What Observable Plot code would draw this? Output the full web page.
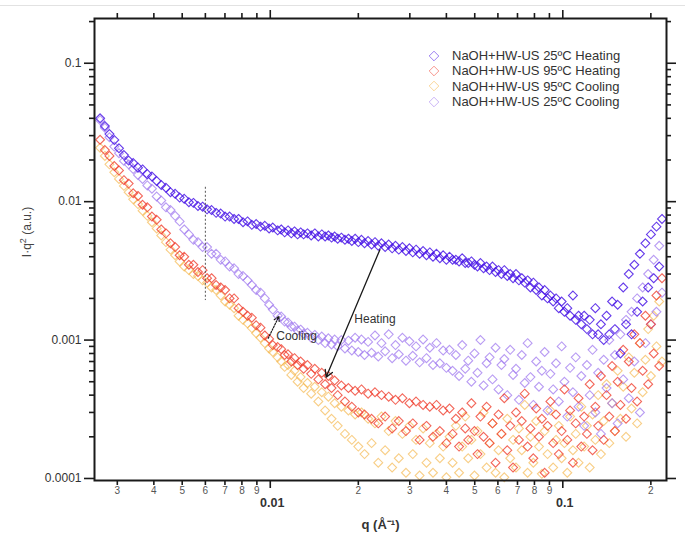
<!DOCTYPE html>
<html><head><meta charset="utf-8">
<script src="https://cdn.jsdelivr.net/npm/d3@7"></script>
<script src="https://cdn.jsdelivr.net/npm/@observablehq/plot@0.6"></script>
<style>
body{margin:0;background:#fff;font-family:"Liberation Sans",Arial,sans-serif;}
#wrap{position:relative;width:685px;height:538px;overflow:hidden;background:#fff;}
#topline{position:absolute;left:0;top:5px;width:685px;height:1px;background:#e2e2e2;}
#legend{position:absolute;left:428px;top:48px;font-size:13px;color:#333;}
#legend .row{height:15.3px;display:flex;align-items:center;white-space:nowrap;}
#legend svg{margin-right:12px;}
#ylabel{position:absolute;left:26px;top:232px;transform:translate(-50%,-50%) rotate(-90deg);font-size:12px;color:#444;white-space:nowrap;}
#ylabel sup{font-size:9px;}
</style></head>
<body><div id="wrap"><div id="topline"></div></div>
<script>
// q values (Å^-1), shared by all series
const q = [
0.00262,0.00272,0.00282,0.00293,0.00304,0.00316,0.00328,0.00340,0.00353,0.00366,
0.00380,0.00394,0.00409,0.00424,0.00440,0.00456,0.00473,0.00490,0.00508,0.00527,
0.00546,0.00566,0.00587,0.00608,0.00630,0.00653,0.00677,0.00701,0.00726,0.00752,
0.00779,0.00807,0.00836,0.00865,0.00895,0.00926,0.00958,0.00991,0.0102,0.0106,
0.0109,0.0112,0.0115,0.0118,0.0121,0.0124,0.0127,0.0130,0.0134,0.0138,
0.0142,0.0146,0.0150,0.0154,0.0158,0.0162,0.0166,0.0170,0.0175,0.0180,
0.0185,0.0190,0.0195,0.0200,0.0205,0.0210,0.0216,0.0222,0.0228,0.0234,
0.0240,0.0247,0.0254,0.0261,0.0268,0.0275,0.0283,0.0291,0.0299,0.0307,
0.0315,0.0324,0.0333,0.0342,0.0351,0.0360,0.0370,0.0380,0.0390,0.0400,
0.0410,0.0420,0.0431,0.0442,0.0453,0.0464,0.0475,0.0487,0.0499,0.0511,
0.0523,0.0536,0.0549,0.0562,0.0575,0.0589,0.0603,0.0617,0.0631,0.0646,
0.0661,0.0676,0.0692,0.0708,0.0724,0.0741,0.0758,0.0775,0.0793,0.0811,
0.0829,0.0848,0.0867,0.0887,0.0907,0.0927,0.0948,0.0969,0.0991,0.1013,
0.1036,0.1059,0.1083,0.1107,0.1132,0.1157,0.1183,0.1209,0.1236,0.1264,
0.1292,0.1321,0.1350,0.1380,0.1411,0.1442,0.1474,0.1507,0.1540,0.1574,
0.1609,0.1645,0.1681,0.1718,0.1756,0.1795,0.1835,0.1875,0.1916,0.1958,
0.2001,0.2045,0.2090,0.2136,0.2183];

// NaOH+HW-US 25ºC Heating
const I_25_heating = [
0.0400,0.0352,0.0308,0.0279,0.0243,0.0217,0.0198,0.0190,0.0176,0.0171,
0.0158,0.0152,0.0141,0.0132,0.0126,0.0117,0.0114,0.0107,0.0105,0.0099,
0.0098,0.0093,0.0092,0.0088,0.0087,0.0083,0.0082,0.0078,0.0078,0.0075,
0.0075,0.0071,0.0072,0.0068,0.0069,0.0066,0.0067,0.0064,0.0065,0.0062,
0.0063,0.0060,0.0062,0.0059,0.0061,0.0058,0.0060,0.0058,0.0059,0.0057,
0.0059,0.0056,0.0058,0.0056,0.0057,0.0055,0.0056,0.0054,0.0055,0.0053,
0.0054,0.0052,0.0054,0.0051,0.0053,0.0050,0.0052,0.0049,0.0051,0.0048,
0.0050,0.0047,0.0049,0.0046,0.0048,0.0045,0.0047,0.0044,0.0046,0.0043,
0.0045,0.0042,0.0044,0.0041,0.0043,0.0040,0.0042,0.0039,0.0041,0.0038,
0.0040,0.0038,0.0038,0.0037,0.0039,0.0036,0.0036,0.0037,0.0035,0.0034,
0.0036,0.0033,0.0034,0.0032,0.0034,0.0031,0.0032,0.0030,0.0032,0.0029,
0.0030,0.0028,0.0030,0.0027,0.0028,0.0026,0.0027,0.0024,0.0026,0.0023,
0.0024,0.0021,0.0023,0.0020,0.0021,0.0019,0.0020,0.0017,0.0019,0.0016,
0.0017,0.0015,0.0021,0.0014,0.0015,0.0013,0.0015,0.0012,0.0014,0.0011,
0.0017,0.0011,0.0013,0.0010,0.0015,0.0011,0.0019,0.0012,0.0018,0.0008,
0.0024,0.0013,0.0030,0.0011,0.0035,0.0016,0.0042,0.0019,0.0050,0.0024,
0.0058,0.0028,0.0066,0.0034,0.0075];

// NaOH+HW-US 95ºC Heating
const I_95_heating = [
0.0280,0.0236,0.0214,0.0181,0.0168,0.0143,0.0135,0.0115,0.0110,0.0095,
0.0091,0.0078,0.0074,0.0063,0.0059,0.0050,0.0047,0.0041,0.0040,0.0035,
0.0035,0.0031,0.0032,0.0028,0.0028,0.0025,0.0024,0.0023,0.0020,0.0020,
0.0017,0.0016,0.0015,0.00145,0.00128,0.00123,0.00108,0.00102,0.00092,0.00089,
0.00086,0.00078,0.00079,0.00070,0.00074,0.00066,0.00070,0.00062,0.00066,0.00057,
0.00062,0.00052,0.00058,0.00048,0.00055,0.00045,0.00051,0.00040,0.00047,0.00036,
0.00045,0.00033,0.00043,0.00030,0.00044,0.00029,0.00041,0.00027,0.00042,0.00025,
0.00040,0.00028,0.00039,0.00023,0.00037,0.00026,0.00038,0.00022,0.00035,0.00025,
0.00036,0.00019,0.00034,0.00024,0.00033,0.00020,0.00034,0.00022,0.00031,0.00018,
0.00032,0.00021,0.00027,0.00017,0.00030,0.00023,0.00019,0.00035,0.00022,0.00015,
0.00028,0.00020,0.00033,0.00018,0.00025,0.00013,0.00029,0.00021,0.00038,0.00016,
0.00024,0.00012,0.00030,0.00019,0.00026,0.00041,0.00017,0.00023,0.00014,0.00032,
0.00020,0.00027,0.00011,0.00024,0.00036,0.00018,0.00029,0.00015,0.00022,0.00044,
0.00019,0.00031,0.00013,0.00025,0.00038,0.00017,0.00028,0.00021,0.00048,0.00016,
0.00033,0.00024,0.00055,0.00019,0.00040,0.00028,0.00065,0.00022,0.00050,0.00034,
0.00085,0.00027,0.00070,0.00045,0.00110,0.00036,0.00095,0.00060,0.00150,0.00048,
0.00130,0.00080,0.00210,0.00065,0.00280];

// NaOH+HW-US 95ºC Cooling
const I_95_cooling = [
0.0245,0.0214,0.0186,0.0163,0.0146,0.0130,0.0117,0.0104,0.0096,0.0086,
0.0079,0.0071,0.0064,0.0057,0.0051,0.0045,0.0041,0.0037,0.0034,0.0032,
0.0030,0.0029,0.0027,0.0026,0.0024,0.0023,0.0021,0.0019,0.0018,0.0017,
0.0015,0.0014,0.00132,0.00122,0.00112,0.00104,0.00095,0.00087,0.00082,0.00075,
0.00070,0.00064,0.00066,0.00056,0.00060,0.00050,0.00054,0.00045,0.00049,0.00041,
0.00046,0.00036,0.00042,0.00031,0.00039,0.00027,0.00035,0.00024,0.00033,0.00021,
0.00031,0.00019,0.00029,0.00017,0.00030,0.00015,0.00027,0.00018,0.00025,0.00013,
0.00028,0.00016,0.00022,0.00012,0.00026,0.00014,0.00021,0.00011,0.00024,0.00015,
0.00019,0.000105,0.00023,0.00013,0.00018,0.00011,0.00021,0.00014,0.00017,0.000102,
0.00020,0.00013,0.00024,0.00011,0.00017,0.00028,0.00014,0.00019,0.000105,0.00022,
0.00015,0.00030,0.00012,0.00018,0.00025,0.00011,0.00016,0.00021,0.000102,0.00027,
0.00014,0.00019,0.00012,0.00023,0.00016,0.00034,0.00011,0.00020,0.00013,0.00026,
0.00017,0.000108,0.00022,0.00015,0.00031,0.00012,0.00019,0.00024,0.00014,0.00018,
0.00011,0.00028,0.00016,0.00021,0.00013,0.00033,0.00017,0.00024,0.00012,0.00029,
0.00019,0.00040,0.00015,0.00026,0.00048,0.00018,0.00035,0.00022,0.00060,0.00027,
0.00046,0.00020,0.00075,0.00032,0.00058,0.00025,0.00095,0.00042,0.00072,0.00120,
0.00055,0.00150,0.00090,0.00190,0.00070];

// NaOH+HW-US 25ºC Cooling
const I_25_cooling = [
0.0388,0.0342,0.0292,0.0250,0.0224,0.0197,0.0186,0.0172,0.0156,0.0146,
0.0131,0.0124,0.0109,0.0102,0.0091,0.0087,0.0079,0.0072,0.0063,0.0058,
0.0053,0.0051,0.0047,0.0047,0.0042,0.0042,0.0038,0.0037,0.0034,0.0033,
0.0030,0.0029,0.0027,0.0025,0.0023,0.0022,0.0020,0.0018,0.00166,0.00150,
0.00148,0.00136,0.00134,0.00125,0.00125,0.00117,0.00119,0.00111,0.00113,0.00104,
0.00109,0.00100,0.00106,0.00095,0.00103,0.00093,0.00101,0.00090,0.00100,0.00087,
0.00099,0.00084,0.00104,0.00082,0.00101,0.00078,0.00097,0.00081,0.00108,0.00076,
0.00095,0.00083,0.00110,0.00074,0.00092,0.00079,0.00104,0.00071,0.00098,0.00077,
0.00090,0.00069,0.00101,0.00074,0.00088,0.00066,0.00095,0.00068,0.00084,0.00063,
0.00085,0.00060,0.00078,0.00055,0.00092,0.00062,0.00071,0.00050,0.00080,0.00058,
0.00100,0.00047,0.00068,0.00075,0.00052,0.00088,0.00044,0.00066,0.00073,0.00040,
0.00085,0.00056,0.00062,0.00037,0.00078,0.00049,0.00095,0.00054,0.00034,0.00070,
0.00046,0.00060,0.00082,0.00031,0.00057,0.00044,0.00068,0.00036,0.00090,0.00050,
0.00028,0.00063,0.00042,0.00075,0.00033,0.00055,0.00024,0.00066,0.00040,0.00085,
0.00030,0.00058,0.00021,0.00072,0.00045,0.00100,0.00035,0.00078,0.00025,0.00110,
0.00052,0.00140,0.00038,0.00160,0.00070,0.00200,0.00030,0.00240,0.00095,0.00300,
0.00130,0.00380,0.00160,0.00480,0.00220];

const seriesNames = ["NaOH+HW-US 25ºC Heating","NaOH+HW-US 95ºC Heating","NaOH+HW-US 95ºC Cooling","NaOH+HW-US 25ºC Cooling"];
const seriesValues = [I_25_heating, I_95_heating, I_95_cooling, I_25_cooling];
const seriesColors = ["#4a18e6", "#f0402f", "#f5b445", "#a079ef"];
const seriesOpacity = [0.85, 0.8, 0.65, 0.75];
const drawOrder = [2, 3, 1, 0];

// axis ticks
const xMinorTicks = [0.003,0.004,0.005,0.006,0.007,0.008,0.009,0.02,0.03,0.04,0.05,0.06,0.07,0.08,0.09,0.2];
const xMinorLabels = ["3","4","5","6","7","8","9","2","3","4","5","6","7","8","9","2"];
const xMajorTicks = [0.01, 0.1];
const xMajorLabels = ["0.01", "0.1"];
const yMinorTicks = [0.0002,0.0003,0.0004,0.0005,0.0006,0.0007,0.0008,0.0009,0.002,0.003,0.004,0.005,0.006,0.007,0.008,0.009,0.02,0.03,0.04,0.05,0.06,0.07,0.08,0.09,0.2];
const yMajorTicks = [0.0001, 0.001, 0.01, 0.1];
const yMajorLabels = ["0.0001", "0.001", "0.01", "0.1"];

// annotations
const dashedQ = [0.006];
const dashedRange = [0.0127, 0.00193];
const heatingArrow = [{x1: 0.0237, y1: 0.0045, x2: 0.01553, y2: 0.00054}];
const coolingArrow = [{x1: 0.00984, y1: 0.00103, x2: 0.0107, y2: 0.00148}];
const heatingNote = [{x: 0.0228, y: 0.00141, text: "Heating"}];
const coolingNote = [{x: 0.01048, y: 0.00106, text: "Cooling"}];

const xLabel = "q (Å\u207B\u00B9)";

// frame geometry (pixels) used only for tick insets
const W = 685, H = 538, ML = 94, MR = 19, MT = 18, MB = 58;
const FW = W - ML - MR, FH = H - MT - MB;

const dotMarks = drawOrder.map(k => {
  const data = q.map((qq, i) => ({q: qq, I: seriesValues[k][i]})).filter(d => d.I != null);
  return Plot.dot(data, {x: "q", y: "I", symbol: "diamond2", r: 4, fill: "none",
    stroke: seriesColors[k], strokeWidth: 1.1, strokeOpacity: seriesOpacity[k]});
});

const tk = {stroke: "#1a1a1a", strokeWidth: 1.6};

const chart = Plot.plot({
  width: W, height: H,
  marginLeft: ML, marginRight: MR, marginTop: MT, marginBottom: MB,
  x: {type: "log", domain: [0.002507, 0.2262], axis: null},
  y: {type: "log", domain: [0.0000967, 0.2105], axis: null},
  style: {fontFamily: "Liberation Sans, Arial, sans-serif", background: "white", overflow: "visible"},
  marks: [
    ...dotMarks,
    Plot.ruleX(dashedQ, {y1: dashedRange[0], y2: dashedRange[1], stroke: "#555", strokeWidth: 1, strokeDasharray: "2,2"}),
    Plot.arrow(heatingArrow, {x1: "x1", y1: "y1", x2: "x2", y2: "y2", stroke: "#1a1a1a", strokeWidth: 1.3, headLength: 9}),
    Plot.arrow(coolingArrow, {x1: "x1", y1: "y1", x2: "x2", y2: "y2", stroke: "#1a1a1a", strokeWidth: 1.2, strokeDasharray: "1.5,1.5", headLength: 7}),
    Plot.text(heatingNote, {x: "x", y: "y", text: "text", textAnchor: "middle", fontSize: 12, fill: "#333"}),
    Plot.text(coolingNote, {x: "x", y: "y", text: "text", textAnchor: "start", fontSize: 12, fill: "#333"}),
    Plot.frame({stroke: "#1a1a1a", strokeWidth: 2}),
    // bottom ticks
    Plot.ruleX(xMinorTicks, {x: d => d, insetTop: FH, insetBottom: -5, ...tk}),
    Plot.ruleX(xMajorTicks, {x: d => d, insetTop: FH, insetBottom: -8, ...tk}),
    // top ticks
    Plot.ruleX(xMinorTicks, {x: d => d, insetTop: -5, insetBottom: FH, ...tk}),
    Plot.ruleX(xMajorTicks, {x: d => d, insetTop: -8, insetBottom: FH, ...tk}),
    // left ticks
    Plot.ruleY(yMinorTicks, {y: d => d, insetLeft: -5, insetRight: FW, ...tk}),
    Plot.ruleY(yMajorTicks, {y: d => d, insetLeft: -10, insetRight: FW, ...tk}),
    // right ticks
    Plot.ruleY(yMinorTicks, {y: d => d, insetLeft: FW, insetRight: -5, ...tk}),
    Plot.ruleY(yMajorTicks, {y: d => d, insetLeft: FW, insetRight: -10, ...tk}),
    // tick labels
    Plot.text(xMinorTicks, {x: d => d, frameAnchor: "bottom", dy: 13, text: (d, i) => xMinorLabels[i], fontSize: 10, fill: "#555"}),
    Plot.text(xMajorTicks, {x: d => d, frameAnchor: "bottom", dy: 26, dx: 2, text: (d, i) => xMajorLabels[i], fontSize: 12.5, fontWeight: "bold", fill: "#333"}),
    Plot.text(yMajorTicks, {y: d => d, frameAnchor: "left", dx: -13, textAnchor: "end", text: (d, i) => yMajorLabels[i], fontSize: 12, fill: "#333"}),
    Plot.text([xLabel], {frameAnchor: "bottom", dy: 48, text: d => d, fontSize: 13, fontWeight: "bold", fill: "#333"})
  ]
});

const wrap = document.getElementById("wrap");
wrap.insertBefore(chart, wrap.firstChild);

// y label
const yl = document.createElement("div");
yl.id = "ylabel";
yl.innerHTML = "I·q<sup>2</sup> (a.u.)";
wrap.appendChild(yl);

// legend
const legend = document.createElement("div");
legend.id = "legend";
seriesNames.forEach((name, k) => {
  const row = document.createElement("div");
  row.className = "row";
  row.innerHTML = `<svg width="12" height="12" viewBox="0 0 12 12"><path d="M6,1.2L10.8,6L6,10.8L1.2,6Z" fill="none" stroke="${seriesColors[k]}" stroke-opacity="0.55" stroke-width="1"/></svg><span>${name}</span>`;
  legend.appendChild(row);
});
wrap.appendChild(legend);
</script>
</body></html>
